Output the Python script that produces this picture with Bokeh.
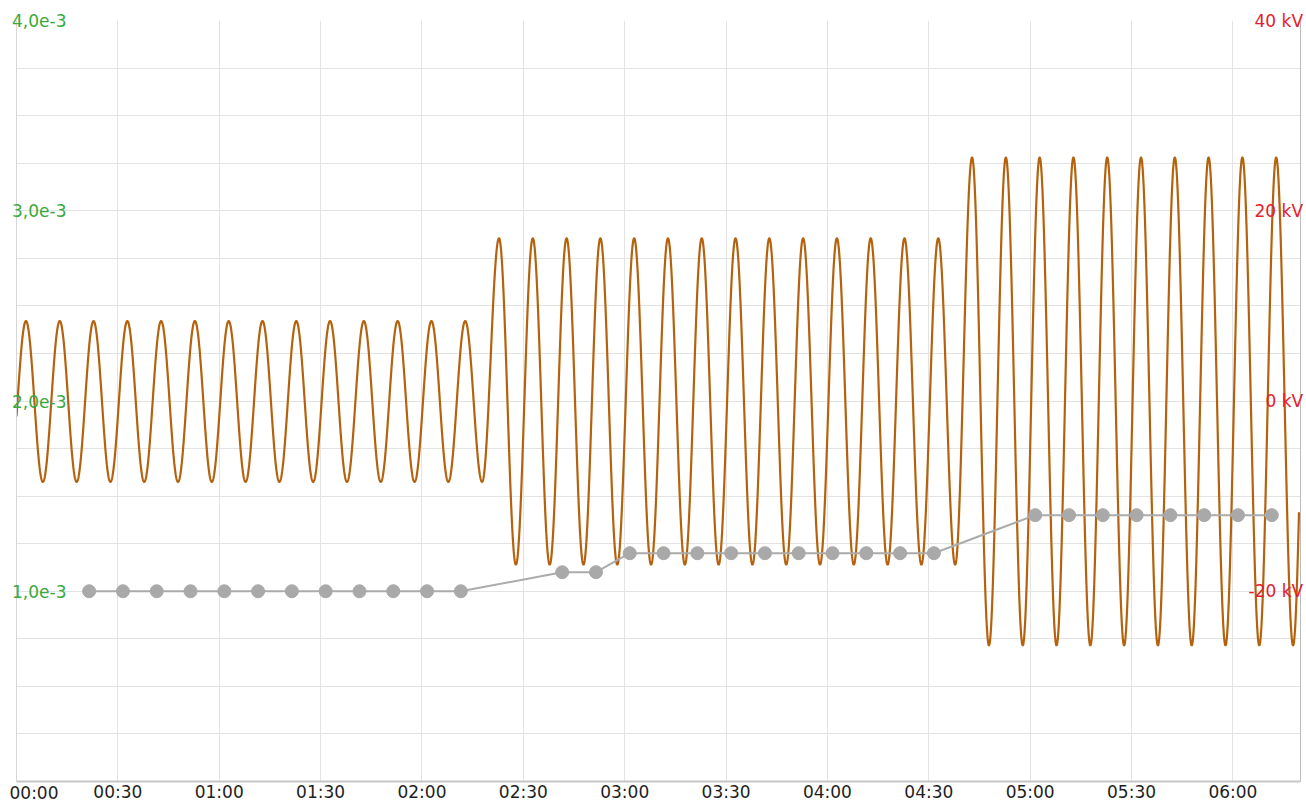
import numpy as np
from bokeh.plotting import figure
from bokeh.models import Range1d, LinearAxis, FixedTicker, CustomJSTickFormatter
from bokeh.embed import file_html
from bokeh.resources import INLINE

# ---------------- data ----------------
# time axis (seconds), labels shown as mm:ss
x_start_s = 0
x_end_s = 380
x_ticks_s = [0, 30, 60, 90, 120, 150, 180, 210, 240, 270, 300, 330, 360]
x_tick_labels = ["00:00", "00:30", "01:00", "01:30", "02:00", "02:30", "03:00",
                 "03:30", "04:00", "04:30", "05:00", "05:30", "06:00"]

# left axis (green)
left_ticks = [0.001, 0.002, 0.003, 0.004]
left_tick_labels = ["1,0e-3", "2,0e-3", "3,0e-3", "4,0e-3"]
left_minor_ticks = [0.00025, 0.0005, 0.00075, 0.00125, 0.0015, 0.00175,
                    0.00225, 0.0025, 0.00275, 0.00325, 0.0035, 0.00375]

# right axis (red, kV)
right_ticks = [-20, 0, 20, 40]
right_tick_labels = ["-20 kV", "0 kV", "20 kV", "40 kV"]

# grey stepped series (left axis)
dot_t = [21.5, 31.5, 41.5, 51.5, 61.5, 71.5, 81.5, 91.5, 101.5, 111.5, 121.5, 131.5,
         161.5, 171.5,
         181.5, 191.5, 201.5, 211.5, 221.5, 231.5, 241.5, 251.5, 261.5, 271.5,
         301.5, 311.5, 321.5, 331.5, 341.5, 351.5, 361.5, 371.5]
dot_v = [1.0e-3, 1.0e-3, 1.0e-3, 1.0e-3, 1.0e-3, 1.0e-3, 1.0e-3, 1.0e-3, 1.0e-3, 1.0e-3, 1.0e-3, 1.0e-3,
         1.1e-3, 1.1e-3,
         1.2e-3, 1.2e-3, 1.2e-3, 1.2e-3, 1.2e-3, 1.2e-3, 1.2e-3, 1.2e-3, 1.2e-3, 1.2e-3,
         1.4e-3, 1.4e-3, 1.4e-3, 1.4e-3, 1.4e-3, 1.4e-3, 1.4e-3, 1.4e-3]

# oscillating voltage (right axis), read per segment
wave_seg_start_s = [-10.0, 138.0, 278.0]
wave_peak_kv = [8.4, 17.1, 25.6]
wave_trough_kv = [-8.5, -17.2, -25.7]
wave_period_s = 10.0
wave_first_peak_s = 2.8
wave_span_s = [0.0, 379.6]

# ---------------- build wave from read extremes ----------------
ks = np.arange(-2, 80)
ext_t = wave_first_peak_s + ks * wave_period_s / 2.0
ext_v = []
for k, te in zip(ks, ext_t):
    seg = max(i for i, s in enumerate(wave_seg_start_s) if s < te)
    ext_v.append(wave_peak_kv[seg] if k % 2 == 0 else wave_trough_kv[seg])
ext_v = np.array(ext_v)
wt = np.arange(wave_span_s[0], wave_span_s[1], 0.05)
idx = np.searchsorted(ext_t, wt, side="right") - 1
t0, t1 = ext_t[idx], ext_t[idx + 1]
v0, v1 = ext_v[idx], ext_v[idx + 1]
frac = (1 - np.cos(np.pi * (wt - t0) / (t1 - t0))) / 2
wv = v0 + (v1 - v0) * frac

# ---------------- styling helpers ----------------
FONT = "DejaVu Sans"
FS_PX = 17
FS = f"{FS_PX}px"
grid_col = "#e3e3e3"
# approximate DejaVu Sans advance widths (em) used to right-align labels inside frame
_em = {"-": 0.361, " ": 0.318, "k": 0.579, "V": 0.684, ",": 0.318, "e": 0.615}
def text_w(s):
    return sum(_em.get(c, 0.636) for c in s) * FS_PX

def label_formatter(tick_vals, tick_texts):
    return CustomJSTickFormatter(args=dict(tv=tick_vals, tt=tick_texts), code="""
let best = -1, bd = Infinity;
for (let i = 0; i < tv.length; i++) {
  const d = Math.abs(tv[i] - tick);
  if (d < bd) { bd = d; best = i; }
}
return (best >= 0 && bd <= 1e-9 + Math.abs(tick) * 1e-6) ? tt[best] : '';
""")

def bare(ax):
    ax.major_tick_line_color = None
    ax.minor_tick_line_color = None
    ax.major_tick_out = 0
    ax.major_tick_in = 0
    ax.minor_tick_out = 0
    ax.minor_tick_in = 0
    ax.major_label_text_font = FONT
    ax.major_label_text_font_size = FS

# ---------------- figure ----------------
p = figure(width=1306, height=805, output_backend="svg", toolbar_location=None,
           x_range=Range1d(x_start_s, x_end_s), y_range=Range1d(0, 0.004),
           min_border_left=16, min_border_right=6, min_border_top=20, min_border_bottom=23)
p.extra_y_ranges = {"kv": Range1d(-40, 40)}
frame_px_per_s = (1306 - 16 - 6) / (x_end_s - x_start_s)
shift_s = 17.5 / frame_px_per_s
p.extra_x_ranges = {"first": Range1d(x_start_s - shift_s, x_end_s - shift_s)}
p.outline_line_color = None
p.background_fill_color = "white"
p.border_fill_color = "white"

# main x axis (all ticks except the first)
xa = p.xaxis[0]
xa.ticker = FixedTicker(ticks=x_ticks_s[1:])
xa.formatter = label_formatter(x_ticks_s[1:], x_tick_labels[1:])
bare(xa)
xa.major_label_standoff = 0
xa.axis_line_color = "#c6c6c6"
xa.axis_line_width = 2
xa.major_label_text_color = "#1e1e1e"

# first x label, kept inside the page edge
xa0 = LinearAxis(x_range_name="first", ticker=FixedTicker(ticks=[x_ticks_s[0]]),
                 formatter=label_formatter([x_ticks_s[0]], [x_tick_labels[0]]))
bare(xa0)
xa0.axis_line_color = None
xa0.major_label_standoff = -22
xa0.major_label_text_color = "#1e1e1e"
p.add_layout(xa0, "below")

# left axis, labels drawn inside the frame
ya = p.yaxis[0]
ya.ticker = FixedTicker(ticks=left_ticks, minor_ticks=left_minor_ticks)
ya.formatter = label_formatter(left_ticks, left_tick_labels)
bare(ya)
ya.major_label_standoff = -50
ya.major_label_text_color = "#3aa83a"
ya.axis_line_color = "#d6d6d6"

# right axis: one axis per label so each is right-aligned at the page edge
for i, (v, txt) in enumerate(zip(right_ticks, right_tick_labels)):
    ra = LinearAxis(y_range_name="kv", ticker=FixedTicker(ticks=[v]),
                    formatter=label_formatter([v], [txt]))
    bare(ra)
    extra = 6 if i == 0 else 0
    ra.major_label_standoff = -int(round(text_w(txt) + 3)) + extra
    ra.major_label_text_color = "#e3202c"
    ra.axis_line_color = "#bcbcbc" if i == 0 else None
    p.add_layout(ra, "right")

p.xgrid.grid_line_color = grid_col
p.ygrid.grid_line_color = grid_col
p.ygrid.minor_grid_line_color = grid_col

# series
p.line(wt, wv, y_range_name="kv", line_color="#b5620e", line_width=2.2)
p.line(dot_t, dot_v, line_color="#ababab", line_width=2)
p.scatter(dot_t, dot_v, size=13, fill_color="#a9a9a9", line_color="#a9a9a9")

open("out.html", "w").write(file_html(p, INLINE))
